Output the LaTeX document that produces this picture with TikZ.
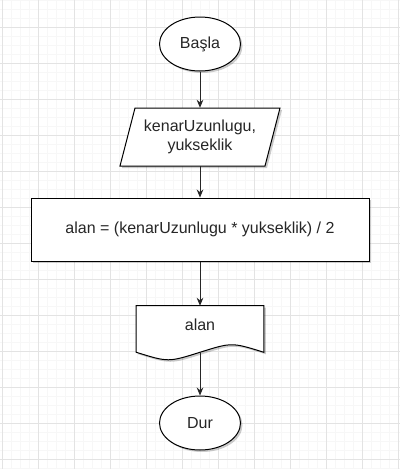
\documentclass[tikz,border=0pt]{standalone}
\usepackage{fontspec}
\setmainfont{Liberation Sans}
\usetikzlibrary{arrows.meta,shapes.geometric,shadows,backgrounds,positioning}

\begin{document}
\begin{tikzpicture}[x=0.75pt,y=-0.75pt,
every node/.style={font=\fontsize{12}{14.4}\selectfont,text=black!85},
shade/.style={drop shadow={shadow xshift=1.5pt,shadow yshift=-1.5pt,opacity=0.2,fill=black}},
box/.style={draw=black,line width=0.75pt,fill=white,shade},
terminal/.style={box,ellipse,minimum width=60.75pt,minimum height=40.5pt,inner sep=0pt},
flow/.style={draw=black!85,line width=0.75pt,-{Stealth[length=6pt,width=5pt]}}]
\useasboundingbox (0,0) rectangle (400,469);
\node at (200,44)[terminal](start){Başla};
\node at (200,137)[rectangle,minimum width=97.5pt,minimum height=43.5pt,inner sep=0pt,align=center](input){kenarUzunlugu,\\yukseklik};
\node at (200,229.5)[box,rectangle,minimum width=253.5pt,minimum height=47.25pt](calc){alan = (kenarUzunlugu * yukseklik) / 2};
\node at (200,325)[rectangle,minimum width=95.25pt,minimum height=28.5pt,inner sep=0pt](output){alan};
\node at (200,423)[terminal](stop){Dur};
\begin{pgfonlayer}{background}
\fill[white] (0,0) rectangle (400,469);
\foreach \x in {2.5,11.5,...,400} \draw[black!3,line width=0.75pt] (\x,0) -- (\x,469);
\foreach \y in {0,9,...,469} \draw[black!3,line width=0.75pt] (0,\y) -- (400,\y);
\foreach \x in {2.5,38.5,...,400} \draw[black!11,line width=0.75pt] (\x,0) -- (\x,469);
\foreach \y in {27,63,...,469} \draw[black!11,line width=0.75pt] (0,\y) -- (400,\y);
\draw[box] ([xshift=-48.75pt,yshift=21.75pt]input.center) -- ([xshift=60pt,yshift=21.75pt]input.center) -- ([xshift=48.75pt,yshift=-21.75pt]input.center) -- ([xshift=-60pt,yshift=-21.75pt]input.center) -- cycle;
\draw[box] (output.north west) -- (output.north east) -- ([yshift=-6pt]output.south east) .. controls ([xshift=-24pt,yshift=1.5pt]output.south east) .. ([yshift=-6pt]output.south) .. controls ([xshift=24pt,yshift=-13.5pt]output.south west) .. ([yshift=-6pt]output.south west) -- cycle;
\end{pgfonlayer}
\draw[flow] (start) -- (input);
\draw[flow] (input) -- (calc);
\draw[flow] (calc) -- (output);
\draw[flow] ([yshift=-6pt]output.south) -- (stop);
\end{tikzpicture}
\end{document}
